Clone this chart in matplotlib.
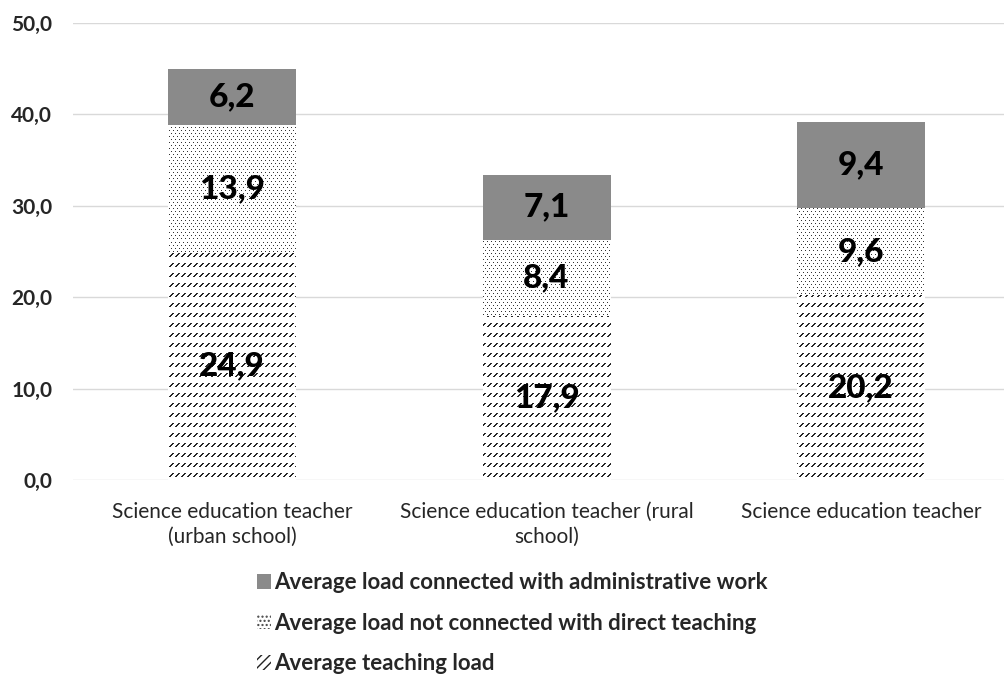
import numpy as np
import matplotlib
matplotlib.use("Agg")
import matplotlib.pyplot as plt
from matplotlib.patches import Patch

# ---- data ----
categories = ["Science education teacher\n(urban school)",
              "Science education teacher (rural\nschool)",
              "Science education teacher"]
teaching_load = [24.9, 17.9, 20.2]
not_direct_load = [13.9, 8.4, 9.6]
admin_load = [6.2, 7.1, 9.4]
series_names = ["Average load connected with administrative work",
                "Average load not connected with direct teaching",
                "Average teaching load"]
yticks = [0, 10, 20, 30, 40, 50]
ytick_labels = ["0,0", "10,0", "20,0", "30,0", "40,0", "50,0"]

FONT = "Lato"
plt.rcParams["font.family"] = [FONT, "DejaVu Sans"]
plt.rcParams["hatch.linewidth"] = 1.0

W, H = 1005, 677
fig = plt.figure(figsize=(W / 100, H / 100), dpi=100)
ax_l, ax_b, ax_w, ax_h = 73, 197, 931, 457
ax = fig.add_axes([ax_l / W, ax_b / H, ax_w / W, ax_h / H])

# ---- textures (pixel patterns) ----
yy, xx = np.mgrid[0:ax_h, 0:ax_w]
white = np.ones((ax_h, ax_w, 3))

dots = white.copy()
row = yy % 6
mask_d = ((row == 0) & (xx % 4 == 0)) | ((row == 3) & (xx % 4 == 2))
dots[mask_d] = 0.2

diag = white.copy()
r = yy % 10
mask_t = (r < 4) & (((xx - (3 - r)) % 6) < 2)
diag[mask_t] = 0.15

admin_color = "#8a8a8a"

x = np.arange(len(categories))
width = 0.407
b1 = ax.bar(x, teaching_load, width, color="white", linewidth=0, zorder=2)
bottom2 = np.array(teaching_load)
b2 = ax.bar(x, not_direct_load, width, bottom=bottom2, color="white", linewidth=0, zorder=2)
bottom3 = bottom2 + np.array(not_direct_load)
b3 = ax.bar(x, admin_load, width, bottom=bottom3, color=admin_color, linewidth=0, zorder=2)

for bars, tex in ((b1, diag), (b2, dots)):
    for p in bars:
        im = ax.imshow(tex, extent=(0, 1, 0, 1), transform=ax.transAxes,
                       interpolation="nearest", aspect="auto", zorder=3)
        im.set_clip_path(p)

# labels
for bars, vals, bots in ((b1, teaching_load, np.zeros(3)),
                         (b2, not_direct_load, bottom2),
                         (b3, admin_load, bottom3)):
    for xi, v, bt in zip(x, vals, bots):
        ax.text(xi, bt + v / 2, f"{v:.1f}".replace(".", ","), ha="center", va="center",
                fontsize=24, fontweight="black", color="black", zorder=5)

ax.set_xlim(-0.5056, 2.4547)
ax.set_ylim(0, 50)
ax.set_yticks(yticks)
ax.set_yticklabels(ytick_labels, fontweight="bold", fontsize=15, color="#262626")
ax.set_xticks(x)
ax.set_xticklabels(categories, fontsize=15, color="#262626", linespacing=1.3)
ax.tick_params(axis="both", length=0)
ax.tick_params(axis="y", pad=15)
ax.tick_params(axis="x", pad=16)
ax.grid(axis="y", color="#d9d9d9", linewidth=1.0, zorder=0)
ax.set_axisbelow(True)
for s in ax.spines.values():
    s.set_visible(False)

handles = [Patch(facecolor=admin_color, linewidth=0),
           Patch(facecolor="white", edgecolor="#444444", linewidth=0, hatch="...."),
           Patch(facecolor="white", edgecolor="#222222", linewidth=0, hatch="////")]
leg = fig.legend(handles, series_names, loc="upper left",
                 bbox_to_anchor=(257 / W, 1 - 572 / H), frameon=False,
                 prop={"family": FONT, "weight": "bold", "size": 16},
                 handlelength=0.64, handleheight=0.64, handletextpad=0.15,
                 labelspacing=0.88, borderpad=0, borderaxespad=0)
for t in leg.get_texts():
    t.set_color("#262626")

fig.savefig("out.png", dpi=100)
